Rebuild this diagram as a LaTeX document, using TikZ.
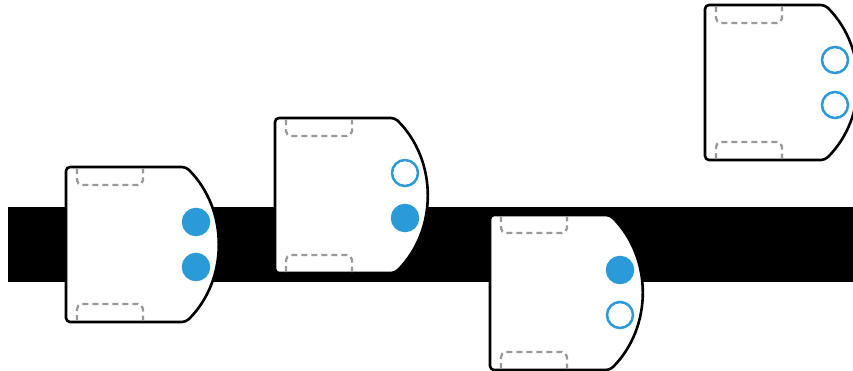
\documentclass[tikz,border=0pt]{standalone}
\definecolor{ledblue}{HTML}{2A9AD8}
\tikzset{rbbody/.style={draw=black,fill=white,line width=2.6pt,rounded corners=4pt,line join=round},
         rbpad/.style={draw=black!40,line width=2.3pt,rounded corners=5pt,dash pattern=on 6pt off 4pt},
         rbled/.style={circle,draw=ledblue,line width=2.5pt,inner sep=0pt,minimum size=26pt}}
\begin{document}
\begin{tikzpicture}[x=1pt,y=-1pt]
  \useasboundingbox (0,0) rectangle (853,370);
  \fill[black] (8,207) rectangle (853,282);
  \foreach \n/\x/\y/\fa/\fb in {1/66/167/ledblue/ledblue,2/275/118/white/ledblue,
                                3/490/215/ledblue/white,4/705/5/white/white}
    {\begin{scope}[shift={(\x,\y)}]
       \draw[rbbody] (120,155) arc[start angle=45,end angle=-45,radius=109.6]--(0,0)--(0,155)--cycle;
       \draw[rbpad] (11,1)--(11,18)--(77,18)--(77,1);
       \draw[rbpad] (11,154)--(11,137)--(77,137)--(77,154);
       \node[rbled,fill=\fa] (led\n a) at (130,55) {};
       \node[rbled,fill=\fb] (led\n b) at (130,100) {};
     \end{scope}}
\end{tikzpicture}
\end{document}
